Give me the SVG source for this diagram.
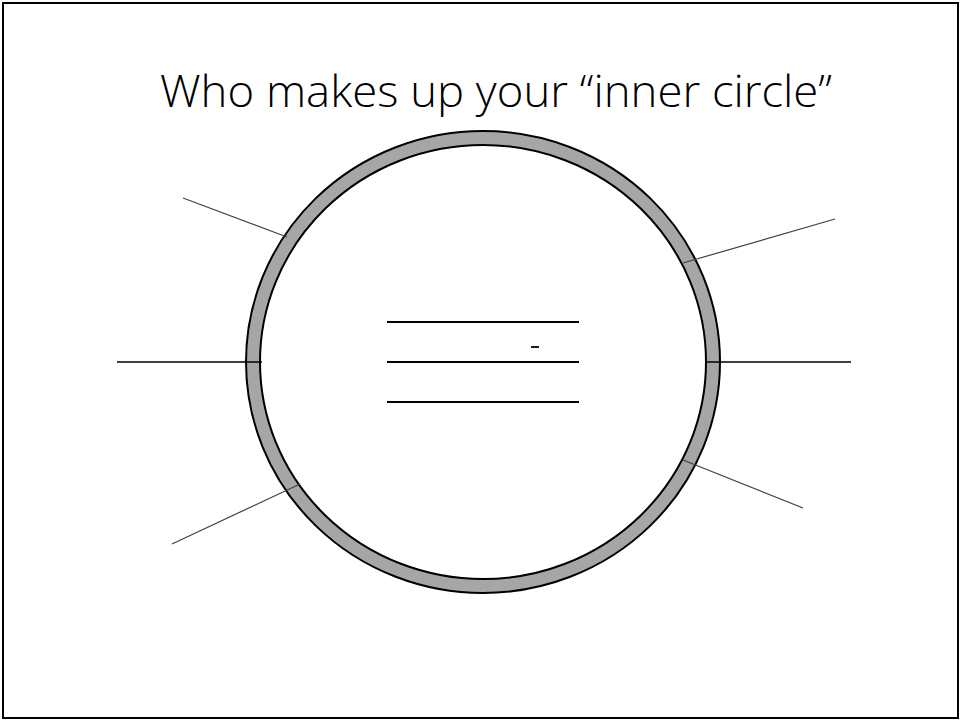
<svg xmlns="http://www.w3.org/2000/svg" width="961" height="721" viewBox="0 0 961 721">
<style>
.title{font-family:"Open Sans","Liberation Sans",sans-serif;font-weight:300;font-size:44px;fill:#000}
.spoke{stroke:#404040;stroke-width:1.2;fill:none}
.hline{stroke:#000;stroke-width:1.5;fill:none}
.blank{stroke:#000;stroke-width:1.8;fill:none}
</style>
<rect x="3" y="3" width="955" height="715" fill="#fff" stroke="#000" stroke-width="2"/>
<g id="title">
<text class="title" x="496" y="107" text-anchor="middle" textLength="672" lengthAdjust="spacingAndGlyphs">Who makes up your “inner circle”</text>
</g>
<g id="ring">
<ellipse cx="483" cy="362" rx="230" ry="224" fill="none" stroke="#a6a6a6" stroke-width="14"/>
<ellipse cx="483" cy="362" rx="237" ry="231" fill="none" stroke="#000" stroke-width="2"/>
<ellipse cx="483" cy="362" rx="223" ry="217" fill="none" stroke="#000" stroke-width="2"/>
</g>
<g id="connectors">
<line class="spoke" x1="183" y1="198" x2="287" y2="237"/>
<line class="spoke" x1="683" y1="263" x2="835" y2="219"/>
<line class="spoke" x1="172" y1="544" x2="300" y2="484"/>
<line class="spoke" x1="683" y1="460" x2="803" y2="508"/>
<line class="hline" x1="117" y1="362" x2="262" y2="362"/>
<line class="hline" x1="706" y1="362" x2="851" y2="362"/>
</g>
<g id="center-blanks">
<line class="blank" x1="387" y1="322" x2="579" y2="322"/>
<line class="blank" x1="387" y1="362" x2="579" y2="362"/>
<line class="blank" x1="387" y1="402" x2="579" y2="402"/>
<line class="blank" x1="531" y1="347" x2="539" y2="347"/>
</g>
</svg>
